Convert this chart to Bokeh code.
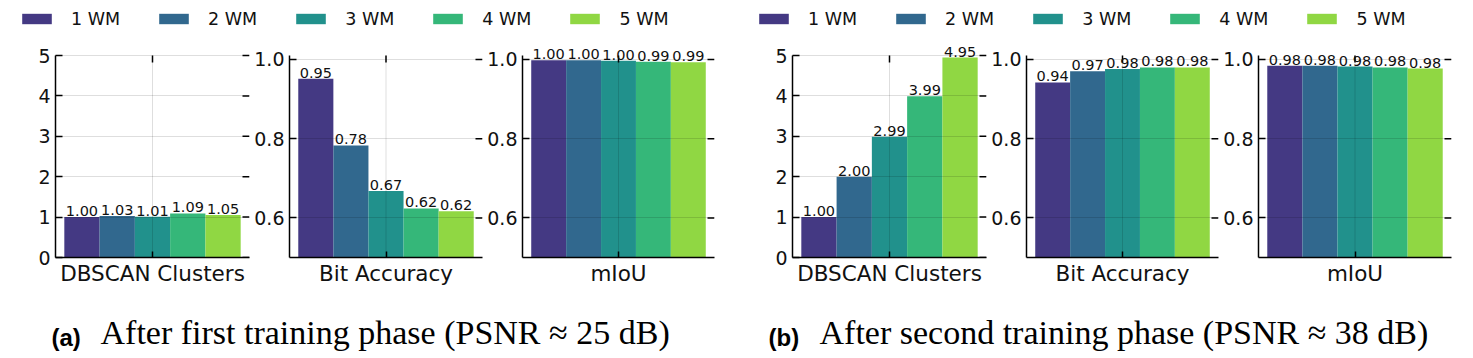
from bokeh.plotting import figure
from bokeh.models import (Range1d, FixedTicker, Label, Legend,
                          LegendItem, ColumnDataSource, PrintfTickFormatter)
from bokeh.layouts import row, column
from bokeh.embed import file_html
from bokeh.resources import INLINE

# ---------------- data ----------------
wm_labels = ["1 WM", "2 WM", "3 WM", "4 WM", "5 WM"]
wm_colors = ["#443983", "#31688e", "#21918c", "#35b779", "#90d743"]
metric_names = ["DBSCAN Clusters", "Bit Accuracy", "mIoU"]

dbscan_a = [1.00, 1.03, 1.01, 1.09, 1.05]
bitacc_a = [0.951, 0.783, 0.668, 0.624, 0.617]
miou_a = [0.998, 0.998, 0.997, 0.994, 0.993]

dbscan_b = [1.00, 2.00, 2.99, 3.99, 4.95]
bitacc_b = [0.942, 0.970, 0.976, 0.980, 0.980]
miou_b = [0.984, 0.984, 0.982, 0.980, 0.977]

count_ticks = [0, 1, 2, 3, 4, 5]
score_ticks = [0.6, 0.8, 1.0]
center_tick = [0]

caption_tags = ["(a)", "(b)"]
caption_texts = ["After first training phase (PSNR \u2248 25 dB)",
                 "After second training phase (PSNR \u2248 38 dB)"]

SANS = "DejaVu Sans"
SERIF = "Liberation Serif"
TXT = "#111111"

PANEL_H = 262
BORDER_TOP = 2
BORDER_BOTTOM = 43
FRAME_H = PANEL_H - BORDER_TOP - BORDER_BOTTOM   # 217 px
AXIS_H = 202                                     # px covered by the axis limits
X_LO, X_HI = -0.44, 0.44


# ---------------- panels ----------------
def make_panel(metric, vals, kind, width, bl, br):
    if kind == "count":
        lo, hi = 0.0, 5.0
        yt = count_ticks
        fmt = PrintfTickFormatter(format="%d")
    else:
        lo, hi = 0.5, 1.01
        yt = score_ticks
        fmt = PrintfTickFormatter(format="%.1f")
    # extra head-room above the axis so value labels are not clipped
    top = lo + (hi - lo) * FRAME_H / AXIS_H
    n = len(vals)
    bw = 0.8 / n
    xs = [(i - (n - 1) / 2) * bw for i in range(n)]
    p = figure(width=width, height=PANEL_H, x_range=Range1d(X_LO, X_HI),
               y_range=Range1d(lo, top),
               output_backend="svg", toolbar_location=None,
               min_border_left=bl, min_border_right=br,
               min_border_top=BORDER_TOP, min_border_bottom=BORDER_BOTTOM)
    p.outline_line_color = None
    p.background_fill_color = "white"
    p.border_fill_color = "white"

    src = ColumnDataSource(dict(x=xs, top=vals, color=wm_colors))
    p.vbar(x="x", top="top", bottom=0, width=bw, fill_color="color",
           line_color=None, source=src)

    # horizontal grid (above bars)
    p.xgrid.visible = False
    p.ygrid.ticker = FixedTicker(ticks=yt, minor_ticks=[])
    g = p.ygrid[0]
    g.grid_line_color = "black"
    g.grid_line_alpha = 0.13
    g.grid_line_width = 1
    g.level = "guide"
    # vertical grid line at the category tick, limited to the axis box
    p.segment(x0=center_tick, y0=[lo] * len(center_tick), x1=center_tick,
              y1=[hi] * len(center_tick), line_color="black", line_alpha=0.13,
              line_width=1)
    # top tick mark (inward)
    p.ray(x=center_tick, y=[hi] * len(center_tick), length=7,
          length_units="screen", angle=-90, angle_units="deg",
          line_color="black", line_width=1.5)
    # right-hand tick marks (inward, no spine)
    p.ray(x=[X_HI] * len(yt), y=yt, length=7, length_units="screen",
          angle=180, angle_units="deg", line_color="black", line_width=1.5)

    for xv, v in zip(xs, vals):
        p.add_layout(Label(x=xv, y=v, text=f"{v:.2f}", text_align="center",
                           text_baseline="bottom", y_offset=1,
                           text_font=SANS, text_font_size="14.5px",
                           text_color=TXT))

    # left axis
    ya = p.yaxis[0]
    ya.ticker = FixedTicker(ticks=yt, minor_ticks=[])
    ya.formatter = fmt
    ya.bounds = (lo, hi)
    ya.major_tick_in = 7
    ya.major_tick_out = 0
    ya.major_label_standoff = 5
    ya.axis_line_width = 1.5
    ya.axis_line_color = "black"
    ya.major_tick_line_width = 1.5
    ya.major_tick_line_color = "black"
    ya.major_label_text_font = SANS
    ya.major_label_text_font_size = "19px"
    ya.major_label_text_color = TXT

    # bottom axis (category name as the tick label)
    xa = p.xaxis[0]
    xa.ticker = FixedTicker(ticks=center_tick, minor_ticks=[])
    xa.major_label_overrides = {0: metric}
    xa.major_tick_in = 6
    xa.major_tick_out = 0
    xa.major_label_standoff = 3
    xa.axis_line_width = 1.5
    xa.axis_line_color = "black"
    xa.major_tick_line_width = 1.5
    xa.major_tick_line_color = "black"
    xa.major_label_text_font = SANS
    xa.major_label_text_font_size = "21.5px"
    xa.major_label_text_color = TXT
    return p


panel_specs = [
    (metric_names[0], dbscan_a, "count", 251, 55, 2),
    (metric_names[1], bitacc_a, "score", 233, 36, 2),
    (metric_names[2], miou_a, "score", 232, 36, 2),
    (metric_names[0], dbscan_b, "count", 272, 76, 2),
    (metric_names[1], bitacc_b, "score", 232, 36, 2),
    (metric_names[2], miou_b, "score", 251, 37, 20),
]
panels = [make_panel(*s) for s in panel_specs]

# ---------------- legend strip ----------------
lf = figure(width=1471, height=38, output_backend="svg", toolbar_location=None,
            min_border=0, x_axis_location=None, y_axis_location=None,
            x_range=Range1d(0, 1), y_range=Range1d(0, 1))
lf.outline_line_color = None
lf.xgrid.visible = False
lf.ygrid.visible = False
lsrc = ColumnDataSource(dict(x=[0] * len(wm_labels), top=[0] * len(wm_labels),
                             color=wm_colors))
lr = lf.vbar(x="x", top="top", bottom=0, width=0.001, fill_color="color",
             line_color=None, source=lsrc)
for xloc in (18, 755):
    items = [LegendItem(label=lab, renderers=[lr], index=i)
             for i, lab in enumerate(wm_labels)]
    leg = Legend(items=items, location=(xloc, 8.5), orientation="horizontal",
                 glyph_width=37, glyph_height=13, label_standoff=16, spacing=35,
                 padding=0, margin=0, border_line_color=None,
                 background_fill_alpha=0, label_text_font=SANS,
                 label_text_font_size="17.5px", label_height=22,
                 label_text_color=TXT, label_text_baseline="middle")
    lf.add_layout(leg, "center")

# ---------------- caption strip ----------------
cf = figure(width=1471, height=56, output_backend="svg", toolbar_location=None,
            min_border=0, x_axis_location=None, y_axis_location=None,
            x_range=Range1d(0, 1471), y_range=Range1d(0, 56))
cf.outline_line_color = None
cf.xgrid.visible = False
cf.ygrid.visible = False
for tag, txt, xt, xs in zip(caption_tags, caption_texts, (51, 768), (100, 819)):
    cf.add_layout(Label(x=xt, y=6, text=tag,
                        text_font="Liberation Sans", text_font_style="bold",
                        text_font_size="24px", text_color="black",
                        text_baseline="bottom"))
    cf.add_layout(Label(x=xs, y=6, text=txt,
                        text_font=SERIF, text_font_size="34px",
                        text_color="black", text_baseline="bottom"))

layout = column(lf, row(*panels), cf)
open("out.html", "w").write(file_html(layout, INLINE))
